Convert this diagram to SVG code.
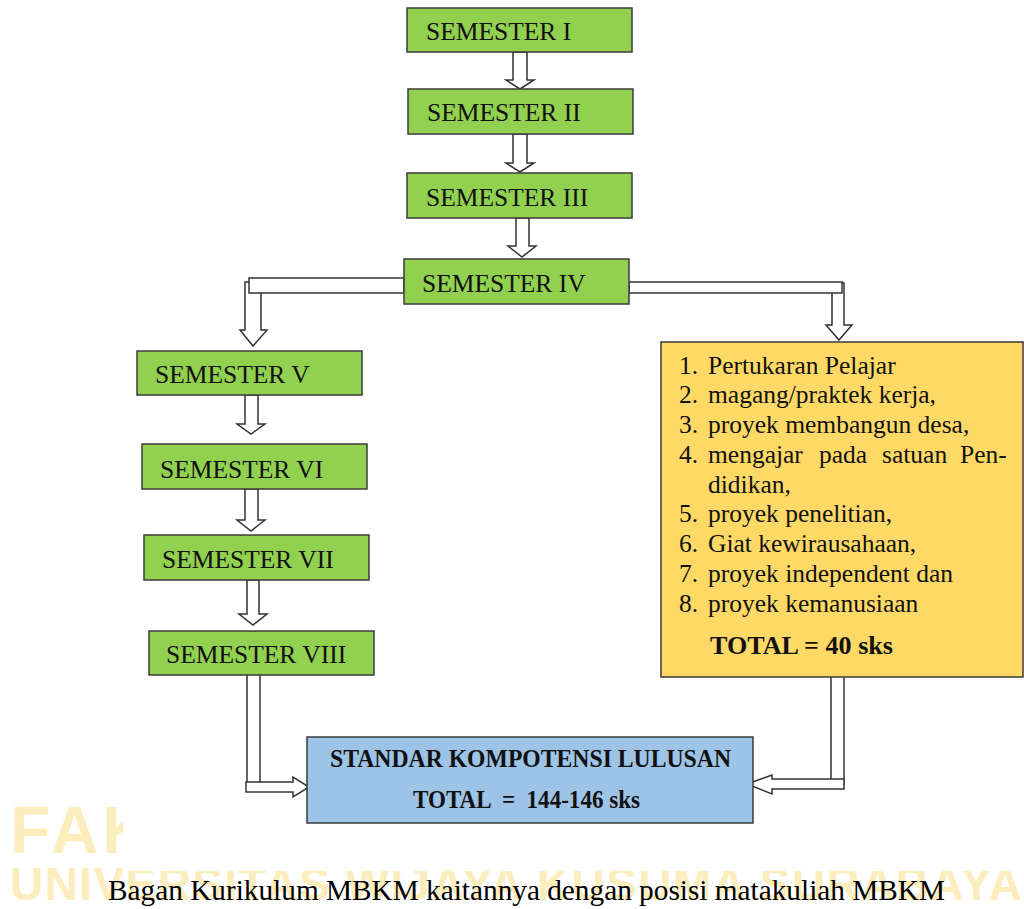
<svg xmlns="http://www.w3.org/2000/svg" width="1024" height="909" viewBox="0 0 1024 909">
<style>
.bg{fill:#ffffff}
.wm{font-family:"Liberation Sans","DejaVu Sans",sans-serif;font-weight:bold;fill:#FCEDBD}
.g{fill:#92D050;stroke:#3a3a3a;stroke-width:1.5}
.y{fill:#FFD966;stroke:#3a3a3a;stroke-width:1.5}
.b{fill:#9DC3E6;stroke:#3a3a3a;stroke-width:1.5}
.arr{fill:#ffffff;stroke:#333333;stroke-width:1.5;stroke-linejoin:miter}
.t{font-family:"Liberation Serif","Times New Roman",serif;font-size:25.5px;fill:#111111}
.tb{font-family:"Liberation Serif","Times New Roman",serif;font-size:25px;font-weight:bold;fill:#111111}
.cap{font-family:"Liberation Serif","Times New Roman",serif;font-size:29px;fill:#000000}
</style>
<rect class="bg" x="0" y="0" width="1024" height="909"/>
<g id="watermark">
<text class="wm" x="10" y="853" font-size="66" letter-spacing="4">FAK</text>
<text class="wm" x="10" y="900" font-size="46" textLength="1012" lengthAdjust="spacing">UNIVERSITAS WIJAYA KUSUMA SURABAYA</text>
<rect class="bg" x="123" y="0" width="901" height="871"/>
</g>
<g id="connectors">
<polygon class="arr" points="513,52 527,52 527,80 534,80 520,89 506,80 513,80"/>
<polygon class="arr" points="513,134 527,134 527,163 534,163 520,172 506,163 513,163"/>
<polygon class="arr" points="516,218 529,218 529,246 536,246 522,257 508,246 516,246"/>
<polygon class="arr" points="245,282 261,282 261,330 267,330 253,346 240,330 245,330"/>
<rect class="arr" x="249" y="278" width="155" height="15"/>
<polygon class="arr" points="832,283 844,283 844,325 852,325 839,340 826,325 832,325"/>
<rect class="arr" x="629" y="282" width="213" height="11"/>
<polygon class="arr" points="245,395 258,395 258,424 265,424 251,434 237,424 245,424"/>
<polygon class="arr" points="245,489 258,489 258,520 265,520 251,531 237,520 245,520"/>
<polygon class="arr" points="247,580 259,580 259,614 267,614 253,625 239,614 247,614"/>
<rect class="arr" x="247" y="673" width="13" height="114"/>
<polygon class="arr" points="246,782 293,782 293,777 309,787 293,797 293,792 246,792"/>
<rect class="arr" x="831" y="676" width="13" height="108"/>
<polygon class="arr" points="844,779 772,779 772,775 747,784 772,794 772,789 844,789"/>
</g>
<g id="sem1"><rect class="g" x="407" y="8" width="225" height="44"/><text class="t" x="426" y="40">SEMESTER I</text></g>
<g id="sem2"><rect class="g" x="408" y="89" width="225" height="45"/><text class="t" x="427" y="121">SEMESTER II</text></g>
<g id="sem3"><rect class="g" x="407" y="173" width="225" height="45"/><text class="t" x="426" y="206">SEMESTER III</text></g>
<g id="sem4"><rect class="g" x="404" y="259" width="225" height="45"/><text class="t" x="422" y="292">SEMESTER IV</text></g>
<g id="sem5"><rect class="g" x="137" y="351" width="225" height="44"/><text class="t" x="155" y="383">SEMESTER V</text></g>
<g id="sem6"><rect class="g" x="142" y="444" width="225" height="45"/><text class="t" x="160" y="478">SEMESTER VI</text></g>
<g id="sem7"><rect class="g" x="144" y="535" width="225" height="45"/><text class="t" x="162" y="568">SEMESTER VII</text></g>
<g id="sem8"><rect class="g" x="149" y="631" width="225" height="44"/><text class="t" x="166" y="663">SEMESTER VIII</text></g>
<g id="mbkm">
<rect class="y" x="661" y="342" width="362" height="335"/>
<text class="t" x="679" y="374">1.</text><text class="t" x="708" y="374">Pertukaran Pelajar</text>
<text class="t" x="679" y="403">2.</text><text class="t" x="708" y="403">magang/praktek kerja,</text>
<text class="t" x="679" y="433">3.</text><text class="t" x="708" y="433">proyek membangun desa,</text>
<text class="t" x="679" y="463">4.</text><text class="t" x="708" y="463">mengajar</text><text class="t" x="819" y="463">pada</text><text class="t" x="882" y="463">satuan</text><text class="t" x="960" y="463">Pen-</text>
<text class="t" x="708" y="493">didikan,</text>
<text class="t" x="679" y="522">5.</text><text class="t" x="708" y="522">proyek penelitian,</text>
<text class="t" x="679" y="552">6.</text><text class="t" x="708" y="552">Giat kewirausahaan,</text>
<text class="t" x="679" y="582">7.</text><text class="t" x="708" y="582">proyek independent dan</text>
<text class="t" x="679" y="612">8.</text><text class="t" x="708" y="612">proyek kemanusiaan</text>
<text class="tb" x="710" y="654" textLength="183" lengthAdjust="spacingAndGlyphs">TOTAL = 40 sks</text>
</g>
<g id="skl">
<rect class="b" x="307" y="737" width="446" height="86"/>
<text class="tb" x="330" y="767" textLength="401" lengthAdjust="spacingAndGlyphs">STANDAR KOMPOTENSI LULUSAN</text>
<text class="tb" x="413" y="808" textLength="227" lengthAdjust="spacingAndGlyphs" xml:space="preserve">TOTAL  =  144-146 sks</text>
</g>
<g id="caption">
<text class="cap" x="108" y="900" textLength="837" lengthAdjust="spacingAndGlyphs">Bagan Kurikulum MBKM kaitannya dengan posisi matakuliah MBKM</text>
</g>
</svg>
